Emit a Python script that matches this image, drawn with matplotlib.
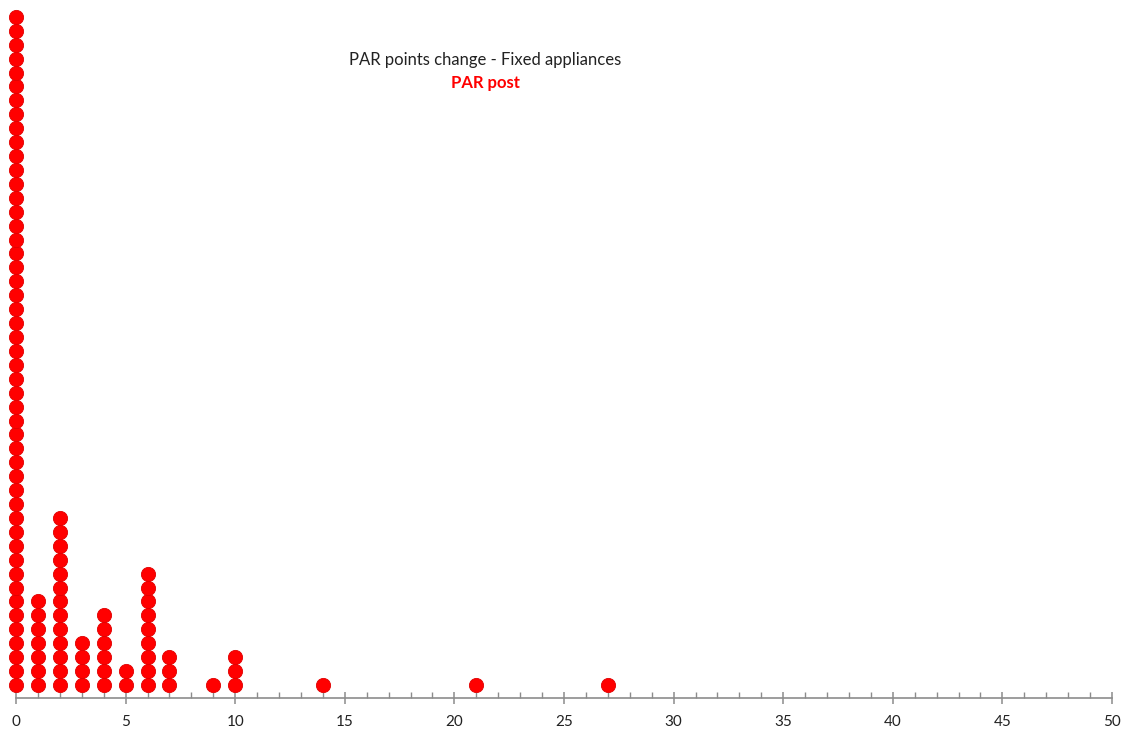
import matplotlib

matplotlib.use("Agg")

import matplotlib.pyplot as plt
import numpy as np
from matplotlib.ticker import MultipleLocator

# PAR points change values and how many appliances share each value
values = [0, 1, 2, 3, 4, 5, 6, 7, 9, 10, 14, 21, 27]
counts = [49, 7, 13, 4, 6, 2, 9, 3, 1, 3, 1, 1, 1]

title = "PAR points change - Fixed appliances"
series_name = "PAR post"
x_ticks = [0, 5, 10, 15, 20, 25, 30, 35, 40, 45, 50]

plt.rcParams["font.family"] = ["Lato", "DejaVu Sans"]

W, H, DPI = 1136, 734, 100
fig = plt.figure(figsize=(W / DPI, H / DPI), dpi=DPI)

# stack one dot per appliance above its value
xs = np.repeat(values, counts)
ys = np.concatenate([np.arange(1, c + 1) for c in counts])

left, right = 16 / W, 1112 / W
bottom, top = (H - 698) / H, (H - 5) / H
ax = fig.add_axes([left, bottom, right - left, top - bottom])
ax.scatter(xs, ys, s=105, color="#ff0000", edgecolors="#e00000",
           linewidths=0.6, zorder=3, clip_on=False)

ax.set_xlim(0, 50)
ax.set_ylim(1 - 13 / 13.92, 1 + 680 / 13.92)

for side in ("top", "right", "left"):
    ax.spines[side].set_visible(False)
ax.spines["bottom"].set_color("#8c8c8c")
ax.spines["bottom"].set_linewidth(1.2)
ax.set_yticks([])

ax.set_xticks(x_ticks)
ax.xaxis.set_minor_locator(MultipleLocator(1))
ax.tick_params(axis="x", which="major", direction="inout", length=9,
               width=1.1, color="#8c8c8c", labelsize=11, pad=8,
               labelcolor="#222222")
ax.tick_params(axis="x", which="minor", direction="in", length=4,
               width=1.0, color="#8c8c8c")

fig.text(485 / W, 1 - 60 / H, title, ha="center", va="center",
         fontsize=12, color="#222222")
fig.text(485 / W, 1 - 83 / H, series_name, ha="center", va="center",
         fontsize=12, color="#ff0000", fontweight="bold")

fig.savefig("out.png", dpi=DPI)
